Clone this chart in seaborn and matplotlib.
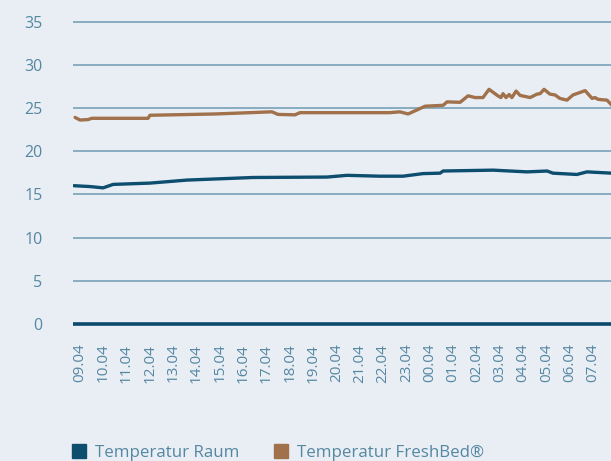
import matplotlib
matplotlib.use("Agg")
import matplotlib.pyplot as plt
from matplotlib.lines import Line2D
import numpy as np
import pandas as pd
import seaborn as sns

# ---- data -------------------------------------------------------------
tick_labels = ["09.04", "10.04", "11.04", "12.04", "13.04", "14.04", "15.04",
               "16.04", "17.04", "18.04", "19.04", "20.04", "21.04", "22.04",
               "23.04", "00.04", "01.04", "02.04", "03.04", "04.04", "05.04",
               "06.04", "07.04"]

# positions measured in tick-label units (0 = "09.04")
fresh_x = [-0.21, 0.0, 0.34, 0.51, 2.92, 3.0, 5.79, 7.29, 8.23, 8.49, 9.22,
           9.43, 13.29, 13.72, 14.07, 14.8, 15.57, 15.74, 16.3, 16.64, 16.94,
           17.28, 17.54, 17.92, 18.05, 18.14, 18.27, 18.4, 18.52, 18.7, 18.87,
           19.3, 19.6, 19.73, 19.9, 20.15, 20.37, 20.58, 20.88, 21.14, 21.66,
           21.96, 22.08, 22.21, 22.38, 22.6, 22.81]
fresh_y = [23.9, 23.6, 23.65, 23.8, 23.8, 24.15, 24.3, 24.45, 24.55, 24.25,
           24.2, 24.45, 24.45, 24.55, 24.3, 25.2, 25.3, 25.7, 25.65, 26.4,
           26.2, 26.2, 27.15, 26.4, 26.2, 26.65, 26.2, 26.55, 26.2, 26.95,
           26.45, 26.2, 26.6, 26.65, 27.15, 26.6, 26.5, 26.1, 25.9, 26.5,
           27.0, 26.1, 26.2, 26.0, 25.95, 25.9, 25.3]

room_x = [-0.26, 0.43, 0.99, 1.42, 3.0, 4.59, 7.42, 10.59, 11.45, 12.86,
          13.85, 14.71, 15.44, 15.57, 17.71, 19.17, 20.03, 20.28, 21.31,
          21.74, 22.81]
room_y = [16.0, 15.9, 15.75, 16.15, 16.3, 16.65, 16.95, 17.0, 17.2, 17.1,
          17.1, 17.4, 17.45, 17.7, 17.8, 17.6, 17.7, 17.45, 17.3, 17.6, 17.45]

series_names = ["Temperatur Raum", "Temperatur FreshBed\u00ae"]
series_colors = ["#0d4d6e", "#a0714a"]
y_ticks = [0, 5, 10, 15, 20, 25, 30, 35]

df = pd.concat([
    pd.DataFrame({"x": room_x, "y": room_y, "serie": series_names[0]}),
    pd.DataFrame({"x": fresh_x, "y": fresh_y, "serie": series_names[1]}),
])

# ---- style --------------------------------------------------------------
bg = "#e9eef5"
text_c = "#5587a1"
sns.set_theme(style="white")
plt.rcParams["font.family"] = ["Open Sans", "DejaVu Sans"]

W, H = 611, 461
fig = plt.figure(figsize=(W / 100, H / 100), dpi=100, facecolor=bg)
ax_left = 73 / W
ax = fig.add_axes([ax_left, 0.2785, 1 - ax_left, 0.6936])
ax.set_facecolor(bg)

sns.lineplot(data=df, x="x", y="y", hue="serie", palette=series_colors,
             hue_order=series_names, linewidth=2.4, legend=False, ax=ax,
             estimator=None, sort=False)

ax.set_xlim(-0.3, 22.77)
ax.set_ylim(-1, 36)

for v in y_ticks[1:]:
    ax.axhline(v, color="#6e9ab2", lw=1.1, zorder=0.5)
ax.axhline(0, color="#0b4a6b", lw=2.6, zorder=3)

for s in ax.spines.values():
    s.set_visible(False)

ax.set_yticks(y_ticks)
ax.set_yticklabels([str(v) for v in y_ticks])
ax.set_xticks(range(len(tick_labels)))
ax.set_xticklabels(tick_labels, rotation=90)
ax.tick_params(axis="y", length=0, pad=22, labelsize=11.5, labelcolor=text_c)
ax.tick_params(axis="x", length=0, pad=8, labelsize=11, labelcolor=text_c)
ax.set_xlabel("")
ax.set_ylabel("")

handles = [Line2D([], [], marker="s", linestyle="none", markersize=9.5,
                  markerfacecolor=c, markeredgecolor=c) for c in series_colors]
leg = fig.legend(handles, series_names, loc="lower left",
                 bbox_to_anchor=(ax_left - 0.002, 0.0), ncol=2,
                 frameon=False, fontsize=12.2, handlelength=0.8,
                 handletextpad=0.55, columnspacing=2.1, borderpad=0,
                 borderaxespad=0)
for t in leg.get_texts():
    t.set_color(text_c)

fig.savefig("out.png", dpi=100, facecolor=bg)
